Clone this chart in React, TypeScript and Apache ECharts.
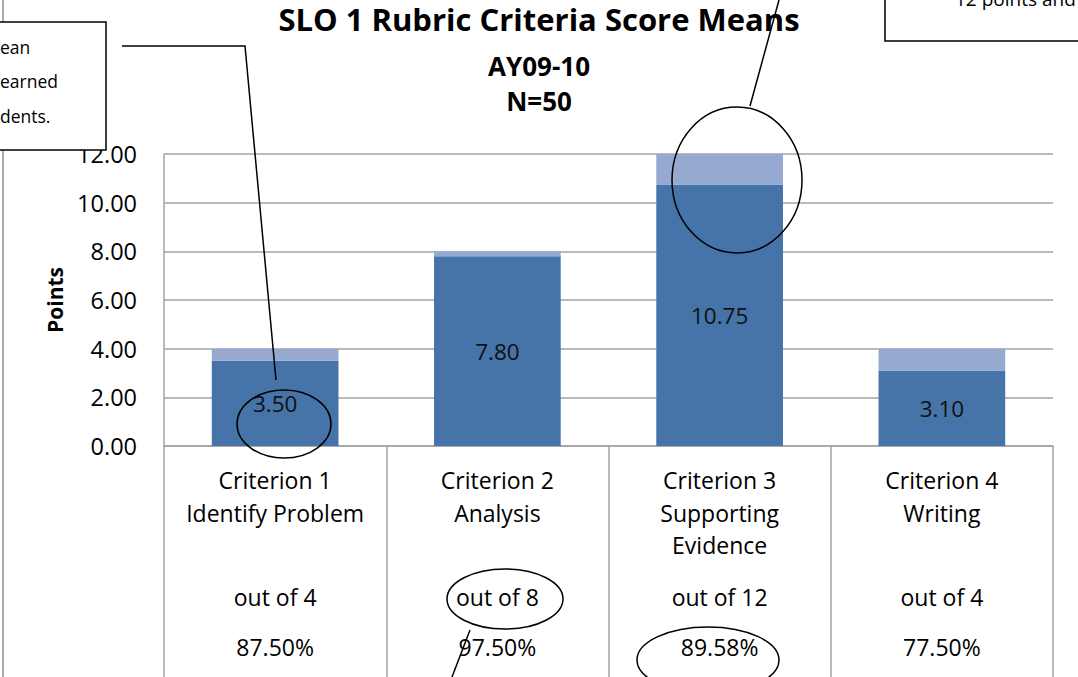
import React, { useEffect, useRef } from "react";
import * as echarts from "echarts";

const categories = [
  "Criterion 1\nIdentify Problem",
  "Criterion 2\nAnalysis",
  "Criterion 3\nSupporting\nEvidence",
  "Criterion 4\nWriting",
];
const meanScores = [3.5, 7.8, 10.75, 3.1];
const maxPoints = [4, 8, 12, 4];
const outOfLabels = ["out of 4", "out of 8", "out of 12", "out of 4"];
const percentLabels = ["87.50%", "97.50%", "89.58%", "77.50%"];
const yTicks = { min: 0, max: 12, interval: 2 };

const FONT = "'Open Sans', Lato, sans-serif";
const GRID = "#A3A3A3";
const LABEL_SIZE = 23;

export default function App() {
  const ref = useRef<HTMLDivElement>(null);
  useEffect(() => {
    if (!ref.current) return;
    const chart = echarts.init(ref.current, undefined, { renderer: "svg" });
    const remaining = maxPoints.map((m, i) => +(m - meanScores[i]).toFixed(2));
    const hiddenAxis = (data: string[], margin: number) => ({
      type: "category",
      data,
      gridIndex: 0,
      position: "bottom",
      axisLine: { show: false },
      axisTick: { show: false },
      splitLine: { show: false },
      axisLabel: {
        margin,
        fontSize: LABEL_SIZE,
        lineHeight: 32,
        color: "#000",
        fontFamily: FONT,
        interval: 0,
      },
    });
    chart.setOption({
      animation: false,
      textStyle: { fontFamily: FONT },
      title: [
        {
          text: "SLO 1 Rubric Criteria Score Means",
          left: "center",
          top: 0,
          padding: 0,
          textStyle: { fontSize: 31, fontWeight: "bold", color: "#000", lineHeight: 38, fontFamily: FONT },
        },
        {
          text: "AY09-10",
          left: "center",
          top: 51,
          padding: 0,
          textStyle: { fontSize: 26, fontWeight: "bold", color: "#000", lineHeight: 30, fontFamily: FONT },
        },
        {
          text: "N=50",
          left: "center",
          top: 86,
          padding: 0,
          textStyle: { fontSize: 26, fontWeight: "bold", color: "#000", lineHeight: 30, fontFamily: FONT },
        },
      ],
      grid: { left: 164, right: 25, top: 154, bottom: 231, containLabel: false },
      xAxis: [
        {
          type: "category",
          data: categories,
          axisLine: { show: true, lineStyle: { color: GRID, width: 1.5 } },
          axisTick: { show: true, length: 232, lineStyle: { color: GRID, width: 1.5 } },
          axisLabel: {
            margin: 18,
            fontSize: LABEL_SIZE,
            lineHeight: 32.5,
            color: "#000",
            fontFamily: FONT,
            interval: 0,
          },
        },
        hiddenAxis(outOfLabels, 135),
        hiddenAxis(percentLabels, 185),
      ],
      yAxis: {
        type: "value",
        min: yTicks.min,
        max: yTicks.max,
        interval: yTicks.interval,
        name: "Points",
        nameLocation: "middle",
        nameGap: 99,
        nameTextStyle: { fontSize: 21, fontWeight: "bold", color: "#000", fontFamily: FONT },
        axisLine: { show: true, lineStyle: { color: GRID, width: 1.5 } },
        axisTick: { show: false },
        splitLine: { show: true, lineStyle: { color: GRID, width: 1.5 } },
        axisLabel: {
          margin: 27,
          fontSize: 23.5,
          color: "#000",
          fontFamily: FONT,
          formatter: (v: number) => v.toFixed(2),
        },
      },
      series: [
        {
          type: "bar",
          stack: "total",
          data: meanScores,
          barWidth: "57%",
          itemStyle: { color: "#4673A8" },
          label: {
            show: true,
            position: "inside",
            fontSize: 22.5,
            color: "#111",
            fontFamily: FONT,
            formatter: (p: any) => Number(p.value).toFixed(2),
          },
        },
        {
          type: "bar",
          stack: "total",
          data: remaining,
          barWidth: "57%",
          itemStyle: { color: "#95A9D1" },
        },
      ],
      graphic: [
        {
          type: "line",
          z: 100,
          shape: { x1: 3, y1: 0, x2: 3, y2: 677 },
          style: { stroke: "#8C8C8C", lineWidth: 1.5 },
        },
        {
          type: "rect",
          z: 101,
          shape: { x: -2, y: 22, width: 108, height: 128 },
          style: { fill: "#fff", stroke: "#000", lineWidth: 1.5 },
        },
        { type: "text", z: 102, x: 0, y: 47, style: { text: "ean", fontSize: 17.5, fill: "#000", fontFamily: FONT, verticalAlign: "middle" } },
        { type: "text", z: 102, x: 0, y: 81, style: { text: "earned", fontSize: 17.5, fill: "#000", fontFamily: FONT, verticalAlign: "middle" } },
        { type: "text", z: 102, x: 0, y: 116, style: { text: "dents.", fontSize: 17.5, fill: "#000", fontFamily: FONT, verticalAlign: "middle" } },
        {
          type: "rect",
          z: 101,
          shape: { x: 885, y: -10, width: 200, height: 51 },
          style: { fill: "#fff", stroke: "#000", lineWidth: 1.5 },
        },
        { type: "text", z: 102, x: 955, y: 8, style: { text: "12 points and", fontSize: 19, fill: "#000", fontFamily: FONT, verticalAlign: "bottom" } },
        {
          type: "polyline",
          z: 100,
          shape: { points: [[122, 46], [245, 46], [276, 380]] },
          style: { stroke: "#000", lineWidth: 1.5, fill: "none" },
        },
        {
          type: "ellipse",
          z: 100,
          shape: { cx: 284, cy: 424, rx: 47, ry: 34 },
          style: { stroke: "#000", lineWidth: 1.5, fill: "none" },
        },
        {
          type: "ellipse",
          z: 100,
          shape: { cx: 737, cy: 180, rx: 65, ry: 73 },
          style: { stroke: "#000", lineWidth: 1.5, fill: "none" },
        },
        {
          type: "line",
          z: 100,
          shape: { x1: 750, y1: 106, x2: 779, y2: 0 },
          style: { stroke: "#000", lineWidth: 1.5 },
        },
        {
          type: "ellipse",
          z: 100,
          shape: { cx: 505, cy: 599, rx: 58, ry: 30 },
          style: { stroke: "#000", lineWidth: 1.5, fill: "none" },
        },
        {
          type: "line",
          z: 100,
          shape: { x1: 470, y1: 630, x2: 452, y2: 677 },
          style: { stroke: "#000", lineWidth: 1.5 },
        },
        {
          type: "ellipse",
          z: 100,
          shape: { cx: 708, cy: 660, rx: 71, ry: 33 },
          style: { stroke: "#000", lineWidth: 1.5, fill: "none" },
        },
      ],
    });
    return () => chart.dispose();
  }, []);
  return (
    <div
      ref={ref}
      style={{ width: 1078, height: 677, position: "absolute", left: 0, top: 0, background: "#fff" }}
    />
  );
}
